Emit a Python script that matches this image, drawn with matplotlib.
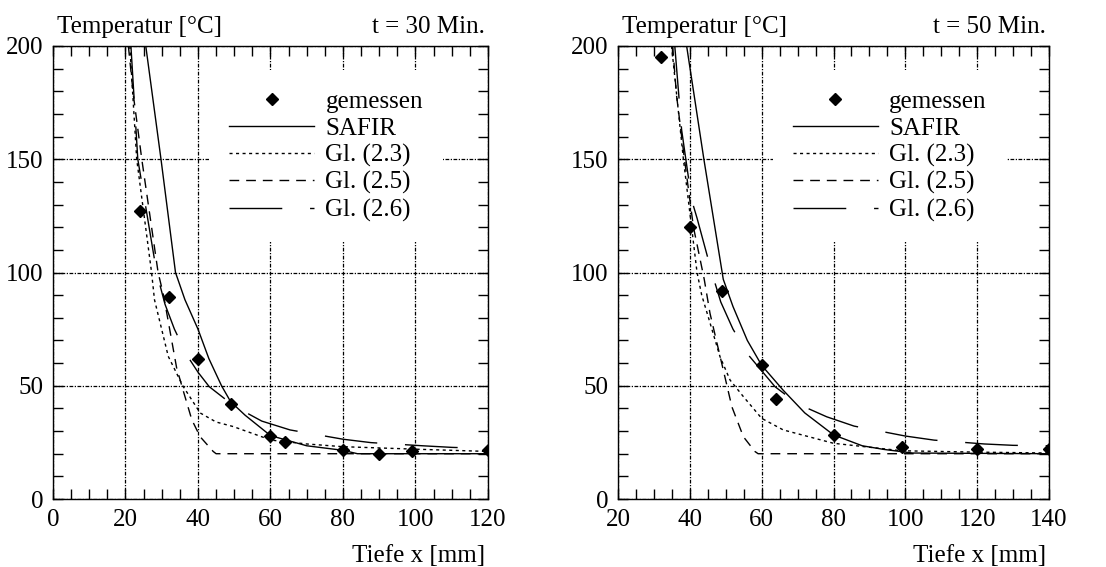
import matplotlib
matplotlib.use("Agg")
import matplotlib.pyplot as plt
from matplotlib.ticker import MultipleLocator

plt.rcParams['font.family'] = ['Liberation Serif', 'DejaVu Serif']

# ---- t = 30 Min.
x30_mess = [24, 32, 40, 49, 60, 64, 80, 90, 99, 120]
y30_mess = [127, 89, 62, 42, 28, 25, 21.5, 20, 21, 21.5]

x30_safir = [25.6, 29.8, 33.8, 36.4, 40, 43, 46.5, 49, 53, 60, 70, 80, 84, 120]
y30_safir = [200, 150, 100, 88, 75, 62, 50, 43, 37, 28, 23.5, 21.5, 20, 20]

x30_g23 = [21.2, 23.1, 27.2, 28, 31.8, 35.8, 40.6, 45, 49.7, 60.2, 70, 80, 100, 120]
y30_g23 = [200, 150, 100, 88, 63, 50, 38, 34, 32, 26, 24.3, 23.1, 22, 21]

x30_g25 = [20.8, 22.2, 24.5, 29.0, 30.5, 34.1, 35.9, 38.3, 40.6, 44.2, 45, 120]
y30_g25 = [200, 178, 150, 100, 90, 58, 48, 35, 27.5, 21, 20, 20]

x30_g26 = [21.5, 23.4, 28.6, 30.9, 33.5, 36.9, 40, 43.1, 50, 57.6, 65.4, 80, 87.7, 102, 110, 120]
y30_g26 = [200, 150, 100, 86, 75, 63.6, 56, 49.6, 41, 34.4, 30.5, 26.4, 24.9, 23.5, 22.8, 22.3]

# ---- t = 50 Min.
x50_mess = [32, 40, 49, 60, 64, 80, 99, 120, 140]
y50_mess = [195, 120, 92, 59, 44, 28.3, 23.1, 22.2, 22.2]

x50_safir = [39.1, 43.9, 49.3, 52, 56, 60, 66, 72, 80, 88, 94, 102, 140]
y50_safir = [200, 150, 97, 85, 70, 59, 48, 38, 28.3, 23.5, 21.9, 20.3, 20]

x50_g23 = [34.9, 38.2, 42, 43.3, 45.1, 48.4, 51.2, 54.9, 60, 66, 80, 99, 120, 140]
y50_g23 = [200, 150, 100, 90, 80.5, 62.8, 52.5, 45.2, 35.6, 30.5, 24.6, 21.3, 20.7, 20.3]

x50_g25 = [35.2, 36.3, 38.5, 41, 44.0, 45.6, 49.3, 51.7, 54.9, 58.1, 59, 140]
y50_g25 = [200, 178, 150, 120, 97, 82, 57, 40.7, 27.5, 21, 20, 20]

x50_g26 = [35.8, 37.7, 40.5, 42, 46.1, 48.6, 52, 56.6, 63.7, 70, 78.1, 85.7, 100, 108, 122, 130, 140]
y50_g26 = [200, 163, 132, 124, 100, 87, 75, 63, 49.6, 42, 36.3, 32.2, 27.8, 26, 24.3, 23.7, 23.5]

labels = ["gemessen", "SAFIR", "Gl. (2.3)", "Gl. (2.5)", "Gl. (2.6)"]


def draw_panel(ax, xm, ym, xs, ys, x23, y23, x25, y25, x26, y26, xlim, zeit):
    lw = 1.0
    ax.plot(xm, ym, 'D', color='black', ms=6.5, zorder=4, label=labels[0])
    ax.plot(xs, ys, '-', color='black', lw=lw, label=labels[1])
    ax.plot(x23, y23, color='black', lw=lw, dashes=(2.2, 2.5), label=labels[2])
    ax.plot(x25, y25, color='black', lw=lw, dashes=(7, 5), label=labels[3])
    ax.plot(x26, y26, color='black', lw=lw, dashes=(38, 20), label=labels[4])

    ax.set_xlim(xlim)
    ax.set_ylim(0, 200)
    ax.xaxis.set_major_locator(MultipleLocator(20))
    ax.xaxis.set_minor_locator(MultipleLocator(5))
    ax.yaxis.set_major_locator(MultipleLocator(50))
    ax.yaxis.set_minor_locator(MultipleLocator(10))
    ax.tick_params(which='both', direction='in', top=True, right=True,
                   labelsize=18, pad=7, width=1.0, color='black')
    ax.tick_params(which='major', length=7)
    ax.tick_params(which='minor', length=7)
    ax.set_axisbelow(True)
    ax.grid(True, which='major', color='black', lw=0.9,
            linestyle=(0, (3, 1.2, 1, 1.2)))
    for sp in ax.spines.values():
        sp.set_linewidth(1.0)

    leg = ax.legend(loc='upper left', bbox_to_anchor=(0.359, 0.946),
                    borderaxespad=0, borderpad=0.8, fontsize=18,
                    handlelength=3.4, handletextpad=0.45, labelspacing=0.17,
                    numpoints=1, frameon=True, fancybox=False)
    leg.get_frame().set_facecolor('white')
    leg.get_frame().set_edgecolor('none')
    leg.get_frame().set_alpha(1)

    ax.text(0.009, 1.029, "Temperatur [°C]", transform=ax.transAxes,
            fontsize=18, ha='left', va='baseline')
    ax.text(0.993, 1.029, zeit, transform=ax.transAxes,
            fontsize=18, ha='right', va='baseline')
    ax.text(0.993, -0.138, "Tiefe x [mm]", transform=ax.transAxes,
            fontsize=18, ha='right', va='baseline')


fig = plt.figure(figsize=(11.06, 5.67), dpi=100)
ax1 = fig.add_axes([0.0479, 0.1199, 0.3933, 0.799])
ax2 = fig.add_axes([0.5588, 0.1199, 0.3897, 0.799])

draw_panel(ax1, x30_mess, y30_mess, x30_safir, y30_safir, x30_g23, y30_g23,
           x30_g25, y30_g25, x30_g26, y30_g26, (0, 120), "t = 30 Min.")
draw_panel(ax2, x50_mess, y50_mess, x50_safir, y50_safir, x50_g23, y50_g23,
           x50_g25, y50_g25, x50_g26, y50_g26, (20, 140), "t = 50 Min.")

fig.savefig("out.png", dpi=100)
